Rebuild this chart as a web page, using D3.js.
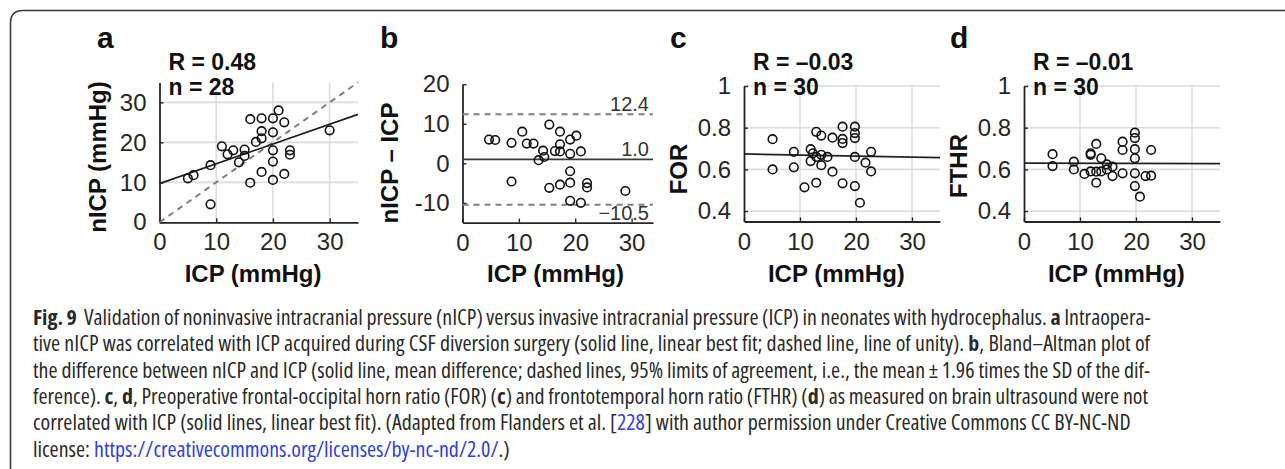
<!DOCTYPE html>
<html>
<head>
<meta charset="utf-8">
<script src="https://cdn.jsdelivr.net/npm/d3@7"></script>
<style>
  body { margin: 0; background: #fff; }
  svg { display: block; }
</style>
</head>
<body>
<div id="figure"></div>
<script>
// ---- values ----
// a: nICP against invasive ICP
const icpA  = [5, 6, 9, 9, 11, 12, 13, 14, 15, 15, 16, 16, 17, 18, 18, 18, 18, 20, 20, 20, 20, 20, 21, 22, 22, 23, 23, 30];
const nicpA = [11, 11.8, 14.3, 4.5, 19, 17, 18, 15, 18.2, 16.6, 25.8, 9.9, 20.1, 26, 22.8, 21, 12.6, 26, 22.5, 18, 15.2, 10.6, 28, 25, 12.1, 18, 16.9, 23];
const fitA  = [9.7, 27.0];          // best fit at ICP = 0 and ICP = 35
const unityA = [0, 35];

// b: Bland-Altman, nICP - ICP
const icpB  = [4.7, 5.8, 8.7, 8.7, 10.6, 11.4, 12.6, 13.5, 14.3, 14.5, 15.4, 15.4, 16.4, 17.3, 17.3, 17.3, 17.3, 19.1, 19.1, 19.1, 19.1, 19.1, 20.2, 21, 21, 22.1, 22.1, 28.9];
const diffB = [6, 5.9, 5.2, -4.6, 8, 5, 5, 0.8, 3.2, 1.6, 9.8, -6.2, 3.1, 8, 4.8, 3, -5.4, 6, 2.4, -2, -4.9, -9.5, 7, 3, -10, -5, -6.1, -7];
const limitsB = [12.4, 1.0, -10.5];   // upper limit, mean, lower limit
const limitLabelsB = ['12.4', '1.0', '\u221210.5'];

// c: FOR against ICP
const icpC = [5.1, 5.1, 8.9, 8.9, 10.8, 11.9, 11.9, 12.3, 12.9, 12.9, 13.8, 13.8, 13.8, 14.9, 15.8, 15.8, 17.6, 17.6, 17.6, 17.6, 19.8, 19.8, 19.8, 19.8, 19.8, 20.7, 21.7, 22.7, 22.7, 12.9];
const forC = [0.745, 0.60, 0.684, 0.61, 0.514, 0.697, 0.64, 0.677, 0.78, 0.536, 0.762, 0.67, 0.62, 0.66, 0.752, 0.589, 0.805, 0.746, 0.726, 0.533, 0.805, 0.774, 0.75, 0.66, 0.52, 0.44, 0.632, 0.684, 0.59, 0.66];
const fitC = [0.674, 0.656];

// d: FTHR against ICP
const icpD  = [5.1, 5.1, 8.9, 8.9, 10.8, 11.9, 11.9, 12.9, 12.9, 12.9, 13.8, 13.8, 14.8, 15.8, 15.8, 17.6, 17.6, 17.6, 19.8, 19.8, 19.8, 19.8, 19.8, 19.8, 20.7, 21.7, 22.7, 22.7, 11.9, 14.8];
const fthrD = [0.673, 0.616, 0.637, 0.60, 0.578, 0.677, 0.67, 0.722, 0.589, 0.536, 0.653, 0.59, 0.624, 0.613, 0.568, 0.733, 0.693, 0.581, 0.776, 0.75, 0.697, 0.653, 0.581, 0.52, 0.469, 0.568, 0.693, 0.57, 0.59, 0.6];
const fitD  = [0.63, 0.628];

// ticks
const xTicks   = [0, 10, 20, 30];
const yTicksA  = [0, 10, 20, 30];
const yTicksB  = [-10, 0, 10, 20];
const yTicksCD = [0.4, 0.6, 0.8, 1];
const yTickLabelsCD = ['0.4', '0.6', '0.8', '1'];

const W = 1285, H = 469;
const font = "'Liberation Sans', Arial, Helvetica, sans-serif";
const ink = '#262626';

const svg = d3.select('#figure')
              .append('svg')
              .attr('width', W)
              .attr('height', H)
              .style('background', 'white');

// frame (top and left edge, rounded corner)
svg.append('path')
   .attr('d', `M10.5,${H} V23 Q10.5,10.5 23,10.5 H${W}`)
   .attr('fill', 'none')
   .attr('stroke', '#3a3a3a')
   .attr('stroke-width', 1.6);

const panels = [
  { letter: 'a', letterX: 97, xs: icpA, ys: nicpA,
    xRange: [159.5, 358], xDomain: [0, 35], yRange: [222.3, 82.4], yDomain: [0, 35],
    yTicks: yTicksA, yFormat: d => d, grid: true,
    yLabel: 'nICP (mmHg)', yLabelX: 106, yLabelY: 157,
    title: ['R = 0.48', 'n = 28'], fit: fitA, unity: unityA },
  { letter: 'b', letterX: 380, xs: icpB, ys: diffB,
    xRange: [462.5, 653], xDomain: [0, 33.8], yRange: [222.6, 84.3], yDomain: [-15, 20],
    yTicks: yTicksB, yFormat: d => d, grid: false,
    yLabel: 'nICP \u2013 ICP', yLabelX: 398, yLabelY: 163,
    limits: limitsB },
  { letter: 'c', letterX: 670, xs: icpC, ys: forC,
    xRange: [744, 940], xDomain: [0, 35], yRange: [221.5, 86], yDomain: [0.35, 1],
    yTicks: yTicksCD, yFormat: (d, i) => yTickLabelsCD[i], grid: true,
    yLabel: 'FOR', yLabelX: 687, yLabelY: 169,
    title: ['R = \u20130.03', 'n = 30'], fit: fitC },
  { letter: 'd', letterX: 950, xs: icpD, ys: fthrD,
    xRange: [1024, 1220], xDomain: [0, 35], yRange: [221.5, 86], yDomain: [0.35, 1],
    yTicks: yTicksCD, yFormat: (d, i) => yTickLabelsCD[i], grid: true,
    yLabel: 'FTHR', yLabelX: 967, yLabelY: 166,
    title: ['R = \u20130.01', 'n = 30'], fit: fitD }
];

panels.forEach(function(p) {
    const x = d3.scaleLinear().domain(p.xDomain).range(p.xRange);
    const y = d3.scaleLinear().domain(p.yDomain).range(p.yRange);
    const g = svg.append('g');

    // grid
    if (p.grid) {
        g.selectAll('.gx')
         .data(xTicks.filter(d => d > 0))
         .enter().append('line')
         .attr('x1', d => x(d)).attr('x2', d => x(d))
         .attr('y1', p.yRange[0]).attr('y2', p.yRange[1])
         .attr('stroke', '#dcdcdc').attr('stroke-width', 1.6);
        g.selectAll('.gy')
         .data(p.yTicks.filter(d => y(d) < p.yRange[0] - 1))
         .enter().append('line')
         .attr('x1', p.xRange[0]).attr('x2', p.xRange[1])
         .attr('y1', d => y(d)).attr('y2', d => y(d))
         .attr('stroke', '#dcdcdc').attr('stroke-width', 1.6);
    }

    // axes, MATLAB style ticks pointing inwards
    const xAxis = g.append('g')
        .attr('transform', `translate(0,${p.yRange[0]})`)
        .call(d3.axisBottom(x).tickValues(xTicks).tickSizeInner(-4).tickSizeOuter(0).tickPadding(11));
    const yAxis = g.append('g')
        .attr('transform', `translate(${p.xRange[0]},0)`)
        .call(d3.axisLeft(y).tickValues(p.yTicks).tickFormat(p.yFormat).tickSizeInner(-4).tickSizeOuter(0).tickPadding(13));

    [xAxis, yAxis].forEach(function(a) {
        a.attr('font-size', null).attr('font-family', null);
        a.select('.domain').attr('stroke', ink).attr('stroke-width', 1.8);
        a.selectAll('.tick line').attr('stroke', ink).attr('stroke-width', 1.4);
        a.selectAll('.tick text')
         .style('font-family', font)
         .style('font-size', '24px')
         .attr('fill', ink);
    });

    // reference lines
    if (p.unity) {
        g.append('line')
         .attr('x1', x(p.unity[0])).attr('y1', y(p.unity[0]))
         .attr('x2', x(p.unity[1])).attr('y2', y(p.unity[1]))
         .attr('stroke', '#808080').attr('stroke-width', 2)
         .attr('stroke-dasharray', '6,5');
    }
    if (p.limits) {
        g.selectAll('.lim')
         .data(p.limits)
         .enter().append('line')
         .attr('x1', p.xRange[0]).attr('x2', p.xRange[1])
         .attr('y1', d => y(d)).attr('y2', d => y(d))
         .attr('stroke', (d, i) => i === 1 ? '#3a3a3a' : '#808080')
         .attr('stroke-width', (d, i) => i === 1 ? 1.6 : 2)
         .attr('stroke-dasharray', (d, i) => i === 1 ? null : '6,5');
        g.selectAll('.limtext')
         .data(p.limits)
         .enter().append('text')
         .attr('x', p.xRange[1] - 4)
         .attr('y', (d, i) => i === 2 ? y(d) + 15 : y(d) - 3)
         .attr('text-anchor', 'end')
         .style('font-family', font)
         .style('font-size', '20px')
         .attr('fill', '#333')
         .text((d, i) => limitLabelsB[i]);
    }
    if (p.fit) {
        g.append('line')
         .attr('x1', x(p.xDomain[0])).attr('y1', y(p.fit[0]))
         .attr('x2', x(p.xDomain[1])).attr('y2', y(p.fit[1]))
         .attr('stroke', '#222').attr('stroke-width', 1.8);
    }

    // points
    g.selectAll('circle')
     .data(p.xs.map((v, i) => [v, p.ys[i]]))
     .enter().append('circle')
     .attr('cx', d => x(d[0]))
     .attr('cy', d => y(d[1]))
     .attr('r', 4.3)
     .attr('fill', 'none')
     .attr('stroke', '#111')
     .attr('stroke-width', 1.6);

    // titles
    if (p.title) {
        g.selectAll('.title')
         .data(p.title)
         .enter().append('text')
         .attr('x', p.xRange[0] + 9)
         .attr('y', (d, i) => 70 + i * 25)
         .style('font-family', font)
         .style('font-size', '23px')
         .style('font-weight', 'bold')
         .attr('fill', '#111')
         .text(d => d);
    }

    // axis labels
    g.append('text')
     .attr('x', x(16.5))
     .attr('y', 282)
     .attr('text-anchor', 'middle')
     .style('font-family', font)
     .style('font-size', '24px')
     .style('font-weight', 'bold')
     .attr('fill', '#111')
     .text('ICP (mmHg)');

    g.append('text')
     .attr('transform', `translate(${p.yLabelX},${p.yLabelY}) rotate(-90)`)
     .attr('text-anchor', 'middle')
     .style('font-family', font)
     .style('font-size', '24px')
     .style('font-weight', 'bold')
     .attr('fill', '#111')
     .text(p.yLabel);

    // panel letter
    svg.append('text')
       .attr('x', p.letterX)
       .attr('y', 48)
       .style('font-family', font)
       .style('font-size', '30px')
       .style('font-weight', 'bold')
       .attr('fill', '#111')
       .text(p.letter);
});

// caption, one text element per printed line, justified with word spacing
const captionLines = [
  [['Fig. 9', 'b'], ['\u00a0 Validation of noninvasive intracranial pressure (nICP) versus invasive intracranial pressure (ICP) in neonates with hydrocephalus. '], ['a', 'b'], [' Intraopera-']],
  [['tive nICP was correlated with ICP acquired during CSF diversion surgery (solid line, linear best fit; dashed line, line of unity). '], ['b', 'b'], [', Bland\u2013Altman plot of']],
  [['the difference between nICP and ICP (solid line, mean difference; dashed lines, 95% limits of agreement, i.e., the mean\u2009\u00b1\u20091.96 times the SD of the dif-']],
  [['ference). '], ['c', 'b'], [', '], ['d', 'b'], [', Preoperative frontal-occipital horn ratio (FOR) ('], ['c', 'b'], [') and frontotemporal horn ratio (FTHR) ('], ['d', 'b'], [') as measured on brain ultrasound were not']],
  [['correlated with ICP (solid lines, linear best fit). (Adapted from Flanders et al. ['], ['228', 'l'], ['] with author permission under Creative Commons CC BY-NC-ND']],
  [['license: '], ['https://creativecommons.org/licenses/by-nc-nd/2.0/', 'l'], ['.)']]
];
const captionWidths = [1118, 1117, 1117, 1115, 1098, 408];
const justified = [true, true, true, true, false, false];

const caption = svg.append('g')
                   .style('font-family', "'Open Sans', 'Noto Sans', sans-serif")
                   .style('font-stretch', '75%')
                   .style('font-size', '18px')
                   .attr('fill', '#2a2a2a');

const lineNodes = captionLines.map(function(line, i) {
    const t = caption.append('text')
        .attr('x', 33)
        .attr('y', 325 + i * 26.3);
    line.forEach(function(seg) {
        t.append('tspan')
         .style('font-weight', seg[1] === 'b' ? 'bold' : null)
         .attr('fill', seg[1] === 'l' ? '#2f3fe0' : null)
         .text(seg[0]);
    });
    return t;
});

// fit the font size to the unjustified line, then spread the justified ones
const size = 18 * captionWidths[4] / lineNodes[4].node().getComputedTextLength();
caption.style('font-size', size + 'px');
lineNodes.forEach(function(t, i) {
    if (!justified[i]) return;
    const natural = t.node().getComputedTextLength();
    const gaps = t.text().split(' ').length - 1;
    t.style('word-spacing', ((captionWidths[i] - natural) / gaps) + 'px');
});
</script>
</body>
</html>
